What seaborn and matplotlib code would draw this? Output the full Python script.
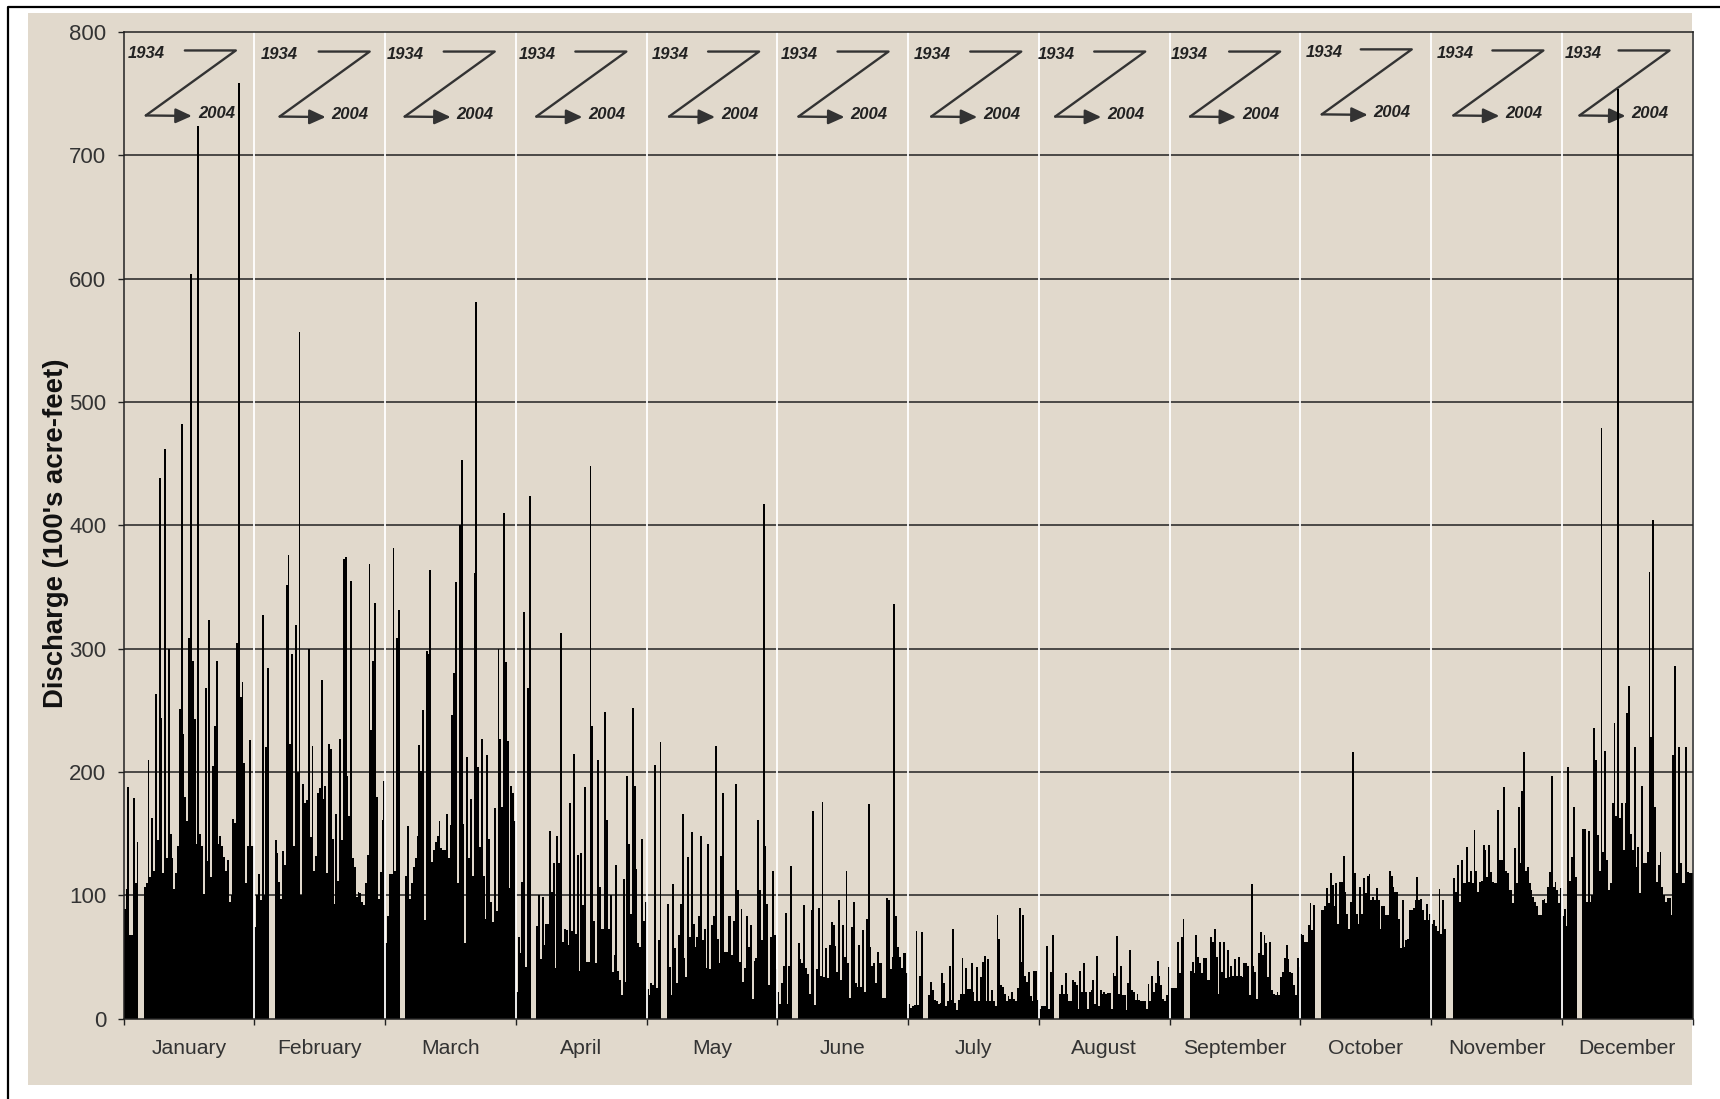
import numpy as np
import pandas as pd
import matplotlib
matplotlib.use("Agg")
import matplotlib.pyplot as plt
from matplotlib.lines import Line2D
from matplotlib.patches import Rectangle
import seaborn as sns

NA = np.nan
months = ["January", "February", "March", "April", "May", "June", "July",
          "August", "September", "October", "November", "December"]

january = [89,105,188,68,68,179,110,143,NA,NA,NA,107,110,210,115,163,120,263,145,438,244,118,462,130,300,150,130,105,118,140,251,482,231,180,160,309,604,290,243,142,724,150,140,101,268,128,323,115,205,237,290,142,148,140,131,120,129,95,100,162,159,305,759,261,273,207,110,140,226,140,140]
february = [74,100,117,96,327,100,220,284,NA,NA,NA,145,134,111,97,136,125,352,376,223,296,140,319,200,557,100,190,175,177,300,147,221,120,132,183,187,275,178,189,118,223,219,146,93,166,112,227,145,373,374,197,164,355,130,123,99,103,102,95,92,110,133,369,234,290,337,180,97,119,161,193]
march = [61,83,117,117,382,120,309,331,NA,NA,NA,116,156,97,110,123,130,148,222,201,250,80,298,296,364,127,137,143,148,160,138,137,137,166,130,157,246,280,354,110,400,453,158,61,212,130,178,116,361,581,204,139,227,116,81,214,146,95,78,171,87,300,227,172,410,289,225,106,189,183,160]
april = [22,66,53,111,330,42,268,424,NA,NA,NA,75,100,48,99,60,77,77,152,103,126,41,148,126,313,62,73,72,60,175,71,215,69,133,39,134,92,188,46,46,448,237,79,45,210,107,73,73,249,161,73,100,38,52,125,39,31,19,113,30,197,142,85,252,189,121,61,58,146,79,95]
may = [24,19,29,27,206,25,64,224,NA,NA,NA,93,42,19,109,57,29,68,93,166,49,34,131,66,151,77,58,66,83,148,64,73,41,142,40,76,83,221,65,45,132,183,54,54,83,83,52,79,190,104,46,89,30,41,83,58,76,16,47,49,161,104,64,417,140,93,27,66,120,68,40]
june = [22,12,29,43,86,12,43,124,NA,NA,NA,61,48,45,92,41,36,20,88,168,11,40,90,35,176,34,57,33,60,78,76,59,38,96,31,76,50,120,45,17,74,95,29,26,60,26,72,22,81,174,58,43,45,29,54,45,45,17,17,98,96,40,50,336,83,58,50,41,53,53,37]
july = [12,9,10,11,71,11,35,70,NA,NA,NA,19,30,23,15,14,12,13,37,29,10,14,43,15,73,13,7,15,20,49,20,41,24,24,45,22,14,42,14,34,46,51,14,48,14,23,14,10,84,65,27,26,20,14,18,16,22,16,14,25,90,46,84,35,30,38,18,14,39,39,15]
august = [8,10,10,10,59,8,38,68,NA,NA,NA,20,27,20,37,20,14,14,31,30,27,8,39,22,45,22,8,22,23,31,12,51,10,23,20,22,20,21,21,8,37,35,67,20,43,19,19,7,29,56,23,22,15,20,15,14,14,14,8,28,14,35,22,29,47,35,27,16,14,19,42]
september = [25,25,25,25,62,37,66,81,NA,NA,NA,39,46,37,68,50,45,37,49,49,31,31,66,62,73,50,20,62,38,62,33,56,34,43,35,48,35,50,35,34,45,45,43,19,109,43,38,16,53,70,52,68,61,34,62,23,20,19,22,19,34,38,49,60,48,38,37,27,19,49,42]
october = [69,68,62,62,76,94,72,92,NA,NA,NA,88,88,91,106,94,118,108,91,110,77,111,111,132,103,85,73,95,216,118,85,77,107,85,114,102,116,117,96,99,96,106,96,73,91,91,84,84,120,116,107,103,103,81,57,96,58,64,65,88,88,90,96,115,96,97,88,80,93,80,85]
november = [77,80,75,71,105,69,96,73,NA,NA,NA,NA,114,103,125,95,129,110,110,139,111,120,110,153,120,103,111,112,141,137,115,141,119,111,110,110,169,129,129,188,120,118,104,104,94,138,110,172,126,185,216,120,123,110,104,99,95,91,84,84,96,97,94,107,119,197,107,111,104,94,106]
december = [83,89,75,204,112,131,172,115,NA,NA,NA,154,154,95,152,95,100,236,210,149,120,479,135,217,129,104,110,175,240,164,754,163,175,137,175,248,270,150,137,220,123,139,102,189,126,126,135,362,228,404,172,111,125,135,107,100,95,98,98,84,214,286,118,220,126,110,110,220,119,118,118]
monthly_values = [january, february, march, april, may, june, july, august,
                  september, october, november, december]
first_year, last_year = "1934", "2004"

# ---- styling / layout (pixels in the 1720 x 1099 frame) ----
W, H = 1720, 1099
LEFT, RIGHT, TOP, BOTTOM = 123.7, 1692.7, 32.0, 1018.7
PAPER = "#E1D9CC"
INK = "#333333"

sns.set_theme(style="white")
plt.rcParams["font.family"] = ["Liberation Sans", "DejaVu Sans"]

fig = plt.figure(figsize=(W / 100, H / 100), dpi=100, facecolor="white")


def fx(px):
    return px / W


def fy(py):
    return 1 - py / H


fig.add_artist(Rectangle((fx(28), fy(1085)), fx(1692) - fx(28), fy(13) - fy(1085),
                         transform=fig.transFigure, facecolor=PAPER, edgecolor="none", zorder=-5))
fig.add_artist(Line2D([fx(8), fx(8), 1], [0, fy(7), fy(7)], transform=fig.transFigure,
                      color="black", lw=1.6, zorder=-4))

ax = fig.add_axes([fx(LEFT), fy(BOTTOM), fx(RIGHT) - fx(LEFT), fy(TOP) - fy(BOTTOM)])
ax.set_facecolor("none")

n_per_month = len(january)
records = []
for m, vals in enumerate(monthly_values):
    for i, v in enumerate(vals):
        records.append({"position": m * n_per_month + i + 0.5, "discharge": v})
df = pd.DataFrame(records)

sns.barplot(data=df, x="position", y="discharge", native_scale=True, color="black",
            saturation=1, width=1, errorbar=None, linewidth=0, ax=ax, zorder=3)

n_months = len(months)
ax.set_xlim(0, n_months * n_per_month)
ax.set_ylim(0, 800)
ax.set_yticks(range(0, 801, 100))
ax.set_xticks([k * n_per_month for k in range(n_months + 1)])
ax.set_xticklabels([])
ax.set_xticks([(k + 0.5) * n_per_month for k in range(n_months)], minor=True)
ax.set_xticklabels(months, minor=True)
ax.tick_params(axis="x", which="major", bottom=True, length=4.5, width=1, color="#222222")
ax.tick_params(axis="x", which="minor", bottom=False, length=0, pad=14.5, labelsize=15.2, labelcolor=INK)
ax.tick_params(axis="y", left=True, length=4.5, width=1, color="#222222", pad=8,
               labelsize=16, labelcolor=INK)
ax.set_xlabel("")
ax.set_ylabel("Discharge (100's acre-feet)", fontsize=19.8, fontweight="bold", color="#111111")
ax.yaxis.set_label_coords(fx(69), fy(533), transform=fig.transFigure)

ax.grid(False)
ax.set_axisbelow(False)
for v in range(100, 800, 100):
    ax.axhline(v, color="#222222", lw=1.1, zorder=2)
for k in range(1, n_months):
    ax.axvline(k * n_per_month, color="white", lw=1.3, zorder=4)
for s in ax.spines.values():
    s.set_visible(True)
    s.set_color("#222222")
    s.set_linewidth(1.1)
    s.set_zorder(5)

# "Z" year-order keys
tips = [215, 337, 451, 571, 692, 810, 931, 1044, 1167, 1287, 1407, 1522]
tops = [46, 47, 47, 47, 47, 47, 47, 47, 47, 45, 46, 46]
year_starts = [116, 238, 353, 473, 594, 712, 833, 946, 1067, 1190, 1310, 1426]
S = W / 1568
for tx, ty, sx in zip(tips, tops, year_starts):
    xr, yt = tx * S, ty * S
    ax.add_line(Line2D([fx(xr - 51), fx(xr), fx(xr - 90)], [fy(yt), fy(yt), fy(yt + 65)],
                       transform=fig.transFigure, color=INK, lw=1.7, clip_on=False, zorder=1.5))
    ax.annotate("", xy=(fx(xr - 44), fy(yt + 65.5)), xytext=(fx(xr - 90), fy(yt + 65)),
                xycoords="figure fraction", textcoords="figure fraction",
                arrowprops=dict(arrowstyle="-|>,head_length=0.7,head_width=0.32", color=INK,
                                lw=1.7, shrinkA=0, shrinkB=0, mutation_scale=14),
                annotation_clip=False, zorder=1.5)
    ax.text(fx(sx * S), fy(yt + 3), first_year, transform=fig.transFigure, fontsize=12,
            fontweight="bold", fontstyle="italic", color="#222222", ha="left", va="center", zorder=4.5)
    ax.text(fx(xr - 38), fy(yt + 63), last_year, transform=fig.transFigure, fontsize=12,
            fontweight="bold", fontstyle="italic", color="#222222", ha="left", va="center", zorder=1.5)

fig.savefig("out.png", dpi=100, facecolor="white")
